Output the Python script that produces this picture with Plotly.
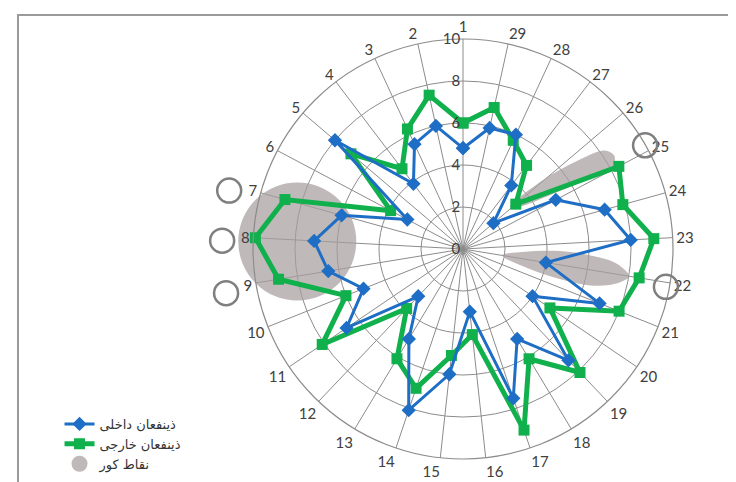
import plotly.graph_objects as go

# ---- data ----
categories = [str(i) for i in range(1, 30)]
internal = [4.8, 6.0, 5.5, 3.9, 8.0, 3.0, 6.0, 7.1, 6.5, 5.1, 6.7, 3.1, 5.0, 8.1, 6.0,
            3.0, 7.5, 5.0, 7.3, 4.0, 7.0, 4.0, 8.0, 7.0, 5.0, 1.9, 3.8, 6.0, 5.9]
external = [6.0, 7.5, 6.3, 4.8, 7.0, 3.9, 8.8, 9.9, 8.9, 6.0, 8.1, 3.9, 6.1, 7.0, 5.1,
            4.1, 9.1, 6.1, 8.1, 5.0, 8.0, 8.5, 9.1, 7.9, 8.4, 3.3, 5.0, 5.7, 6.9]
radial_ticks = [0, 2, 4, 6, 8, 10]

# blind spots (positions in category units, radii in axis units)
blob_pos = [8.04]
blob_r = [7.9]
wedge22_pos = [22.0, 22.55, 22.65, 22.5, 22.3, 22.0, 21.7, 21.45, 21.35, 21.45, 22.0]
wedge22_r = [1.9, 3.0, 4.6, 6.2, 7.4, 8.0, 7.4, 6.2, 4.6, 3.0, 1.9]
wedge25_pos = [26.12, 26.03, 25.79, 25.55, 25.29, 25.03, 25.13, 25.32, 25.71, 26.12]
wedge25_r = [3.0, 5.05, 6.83, 8.23, 8.46, 8.03, 6.47, 4.78, 3.37, 3.0]
ring_pos = [7.12, 8.09, 9.1, 25.14, 21.9]
ring_r = [11.5, 11.5, 11.5, 10.0, 9.85]

names = ["ذینفعان داخلی", "ذینفعان خارجی", "نقاط کور"]

n = len(categories)
step = 360.0 / n
theta = [i * step for i in range(n)]


def pos2deg(p):
    return [(v - 1) * step for v in p]


gray_fill = "rgba(168,158,158,0.72)"
fig = go.Figure()

# blind spots
fig.add_trace(go.Scatterpolar(
    r=blob_r, theta=pos2deg(blob_pos), mode="markers", cliponaxis=False,
    marker=dict(size=118, color=gray_fill, line=dict(width=0)),
    name=names[2], legendgroup="blind", legendrank=3, showlegend=True))
for pos, rr in [(wedge22_pos, wedge22_r), (wedge25_pos, wedge25_r)]:
    fig.add_trace(go.Scatterpolar(
        r=rr, theta=pos2deg(pos), mode="lines", fill="toself",
        fillcolor=gray_fill, line=dict(width=0, shape="spline", color=gray_fill),
        legendgroup="blind", showlegend=False, hoverinfo="skip"))

# series
fig.add_trace(go.Scatterpolar(
    r=external + external[:1], theta=theta + theta[:1], mode="lines+markers",
    line=dict(color="#10B04C", width=5),
    marker=dict(symbol="square", size=11, color="#10B04C"),
    name=names[1], legendrank=2))
fig.add_trace(go.Scatterpolar(
    r=internal + internal[:1], theta=theta + theta[:1], mode="lines+markers",
    line=dict(color="#1F6EC6", width=3),
    marker=dict(symbol="diamond", size=11, color="#1F6EC6"),
    name=names[0], legendrank=1))

# open marker rings (on an invisible overlay polar with a wider radial range)
fig.add_trace(go.Scatterpolar(
    r=ring_r, theta=pos2deg(ring_pos), mode="markers", cliponaxis=False,
    subplot="polar2",
    marker=dict(symbol="circle-open", size=24, color="#7f7f7f", line=dict(width=2.5)),
    showlegend=False, hoverinfo="skip"))

W, H = 736, 482
cx, cy, R = 455, 241, 210
R2 = 241
fig.update_layout(
    width=W, height=H,
    margin=dict(l=0, r=0, t=0, b=0),
    paper_bgcolor="white",
    font=dict(family="Lato", size=15, color="#404040"),
    polar=dict(
        domain=dict(x=[(cx - R) / W, (cx + R) / W], y=[(H - cy - R) / H, (H - cy + R) / H]),
        bgcolor="white",
        angularaxis=dict(
            rotation=90, direction="counterclockwise",
            tickmode="array", tickvals=theta, ticktext=categories,
            showgrid=True, gridcolor="#8c8c8c", gridwidth=1,
            showline=True, linecolor="#8c8c8c", linewidth=1.2,
            ticks="", tickfont=dict(size=15, color="#404040")),
        radialaxis=dict(
            range=[0, 10], tickmode="array", tickvals=radial_ticks,
            angle=90, side="counterclockwise", tickangle=90,
            showgrid=True, gridcolor="#8c8c8c", gridwidth=1,
            showline=False, ticks="", tickfont=dict(size=15, color="#404040")),
    ),
    polar2=dict(
        domain=dict(x=[(cx - R2) / W, (cx + R2) / W], y=[0, 1]),
        bgcolor="rgba(0,0,0,0)",
        angularaxis=dict(rotation=90, direction="counterclockwise", visible=False),
        radialaxis=dict(range=[0, 11.5], visible=False),
    ),
    legend=dict(x=0.07, y=0.168, xanchor="left", yanchor="top",
                tracegroupgap=0,
                font=dict(family="DejaVu Sans", size=13, color="#333333"),
                bgcolor="rgba(0,0,0,0)"),
    shapes=[dict(type="rect", xref="paper", yref="paper",
                 x0=10 / W, x1=740 / W, y0=1 - 480 / H, y1=1 - 7 / H,
                 line=dict(color="#9a9a9a", width=2))],
)

fig.write_html("out.html")
